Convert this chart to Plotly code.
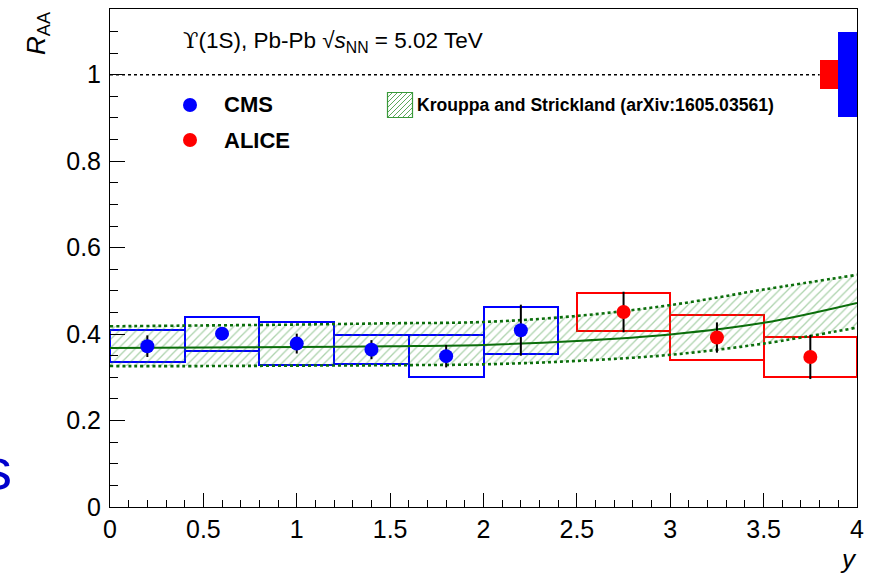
import plotly.graph_objects as go

# ---- CMS: Upsilon(1S) nuclear modification factor vs rapidity ----
cms_edges = [0.0, 0.4, 0.8, 1.2, 1.6, 2.0, 2.4]
cms_raa = [0.372, 0.401, 0.378, 0.364, 0.349, 0.409]
cms_stat = [0.025, 0.012, 0.023, 0.022, 0.026, 0.059]
cms_syst = [0.037, 0.039, 0.050, 0.034, 0.049, 0.054]
cms_global = 0.098

# ---- ALICE: forward rapidity ----
alice_edges = [2.5, 3.0, 3.5, 4.0]
alice_raa = [0.451, 0.392, 0.347]
alice_stat = [0.047, 0.035, 0.051]
alice_syst = [0.045, 0.053, 0.047]
alice_global = 0.034

# ---- Krouppa and Strickland model band ----
model_y = [0.0, 0.5, 1.0, 1.5, 2.0, 2.5, 3.0, 3.5, 4.0]
model_mid = [0.368, 0.369, 0.370, 0.372, 0.375, 0.384, 0.399, 0.426, 0.472]
model_lo = [0.326, 0.326, 0.327, 0.328, 0.330, 0.338, 0.352, 0.378, 0.415]
model_hi = [0.418, 0.420, 0.422, 0.425, 0.428, 0.442, 0.467, 0.503, 0.537]

x_ticks = [0, 0.5, 1, 1.5, 2, 2.5, 3, 3.5, 4]
y_ticks = [0, 0.2, 0.4, 0.6, 0.8, 1]

BLUE = "#0000ff"
RED = "#ff0000"
DKGREEN = "#0b6e0b"
HATCH = "rgba(50,145,50,0.8)"
FONT = "Liberation Sans, Arial, Helvetica, sans-serif"

W, H = 874, 573
ML, MR, MT, MB = 110, 17, 9, 66
PW, PH = W - ML - MR, H - MT - MB


def px(x):
    return (x - ML) / PW


def py(y):
    return (H - MB - y) / PH


def centers(edges):
    return [(a + b) / 2 for a, b in zip(edges[:-1], edges[1:])]


def widths(edges):
    return [b - a for a, b in zip(edges[:-1], edges[1:])]


fig = go.Figure()

# model band: lower edge, upper edge filled with hatching, central curve
fig.add_trace(go.Scatter(
    x=model_y, y=model_lo, mode="lines",
    line=dict(color=DKGREEN, width=2.6, dash="dot", shape="spline"),
    showlegend=False, hoverinfo="skip"))
fig.add_trace(go.Scatter(
    x=model_y, y=model_hi, mode="lines", fill="tonexty",
    fillcolor="rgba(0,0,0,0)",
    fillpattern=dict(shape="/", fgcolor=HATCH,
                     bgcolor="rgba(0,0,0,0)", size=6, solidity=0.22,
                     fillmode="overlay"),
    line=dict(color=DKGREEN, width=2.6, dash="dot", shape="spline"),
    showlegend=False, hoverinfo="skip"))
fig.add_trace(go.Scatter(
    x=model_y, y=model_mid, mode="lines",
    line=dict(color=DKGREEN, width=2, shape="spline"),
    showlegend=False, hoverinfo="skip"))

# systematic uncertainty boxes
for edges, vals, syst, col in [(cms_edges, cms_raa, cms_syst, BLUE),
                               (alice_edges, alice_raa, alice_syst, RED)]:
    fig.add_trace(go.Bar(
        x=centers(edges), width=widths(edges),
        base=[v - s for v, s in zip(vals, syst)],
        y=[2 * s for s in syst],
        marker=dict(color="rgba(0,0,0,0)", line=dict(color=col, width=2)),
        showlegend=False, hoverinfo="skip"))

# global uncertainties around unity
fig.add_trace(go.Bar(
    x=[3.85, 3.95], width=[0.1, 0.1],
    base=[1 - alice_global, 1 - cms_global],
    y=[2 * alice_global, 2 * cms_global],
    marker=dict(color=[RED, BLUE], line=dict(width=0)),
    showlegend=False, hoverinfo="skip"))

# data points with statistical errors
for edges, vals, stat, col in [(cms_edges, cms_raa, cms_stat, BLUE),
                               (alice_edges, alice_raa, alice_stat, RED)]:
    fig.add_trace(go.Scatter(
        x=centers(edges), y=vals, mode="markers",
        marker=dict(color=col, size=14, symbol="circle", line=dict(width=0)),
        error_y=dict(type="data", array=stat, color="black",
                     thickness=2, width=0),
        showlegend=False))

shapes = [
    dict(type="line", xref="x", yref="y", x0=0, x1=3.8, y0=1, y1=1,
         line=dict(color="black", width=1.5, dash="dot")),
    # legend markers
    dict(type="circle", xref="paper", yref="paper",
         x0=px(183), x1=px(197), y0=py(112), y1=py(98),
         fillcolor=BLUE, line=dict(width=0)),
    dict(type="circle", xref="paper", yref="paper",
         x0=px(183), x1=px(197), y0=py(147), y1=py(133),
         fillcolor=RED, line=dict(width=0)),
]

# hatched legend swatch for the model
sx0, sy0, S = 387.5, 92.5, 25
step = 5
k = step
while k < 2 * S:
    a0 = max(0, k - S)
    a1 = min(S, k)
    shapes.append(dict(type="line", xref="paper", yref="paper",
                       x0=px(sx0 + a0), y0=py(sy0 + k - a0),
                       x1=px(sx0 + a1), y1=py(sy0 + k - a1),
                       line=dict(color=HATCH, width=1)))
    k += step
shapes.append(dict(type="rect", xref="paper", yref="paper",
                   x0=px(sx0), x1=px(sx0 + S), y0=py(sy0 + S), y1=py(sy0),
                   line=dict(color="#3a9a3a", width=1.2)))

annotations = [
    dict(text='<span style="font-family:DejaVu Serif">ϒ</span>(1S), Pb-Pb '
              '√<i>s</i><sub>NN</sub> = 5.02 TeV',
         xref="paper", yref="paper", x=px(181), y=py(41),
         xanchor="left", yanchor="middle", showarrow=False,
         font=dict(size=22.5, color="black", family=FONT)),
    dict(text="<b>CMS</b>", xref="paper", yref="paper", x=px(222), y=py(105),
         xanchor="left", yanchor="middle", showarrow=False,
         font=dict(size=22, color="black", family=FONT)),
    dict(text="<b>ALICE</b>", xref="paper", yref="paper", x=px(222), y=py(140),
         xanchor="left", yanchor="middle", showarrow=False,
         font=dict(size=22, color="black", family=FONT)),
    dict(text="<b>Krouppa and Strickland (arXiv:1605.03561)</b>",
         xref="paper", yref="paper", x=px(415), y=py(105),
         xanchor="left", yanchor="middle", showarrow=False,
         font=dict(size=17.6, color="black", family=FONT)),
    dict(text="<i>R</i><sub>AA</sub>", xref="paper", yref="paper",
         x=px(37), y=py(9), xanchor="center", yanchor="top", textangle=-90,
         showarrow=False, font=dict(size=26, color="black", family=FONT)),
    dict(text="<i>y</i>", xref="paper", yref="paper", x=px(848), y=py(559),
         xanchor="center", yanchor="middle", showarrow=False,
         font=dict(size=26, color="black", family=FONT)),
    dict(text="s", xref="paper", yref="paper", x=px(14), y=py(468),
         xanchor="right", yanchor="middle", showarrow=False,
         font=dict(size=58, color="#0000cc", family=FONT)),
]

fig.update_layout(
    width=W, height=H,
    margin=dict(l=ML, r=MR, t=MT, b=MB, pad=0),
    paper_bgcolor="white", plot_bgcolor="white",
    barmode="overlay", bargap=0,
    showlegend=False,
    font=dict(family=FONT, color="black"),
    shapes=shapes, annotations=annotations,
    xaxis=dict(range=[0, 4], tickvals=x_ticks, ticks="inside", ticklen=14,
               tickwidth=1, tickcolor="black",
               minor=dict(dtick=0.1, ticks="inside", ticklen=7,
                          tickcolor="black", tickwidth=1),
               showline=True, linecolor="black", linewidth=1, mirror=True,
               showgrid=False, zeroline=False,
               tickfont=dict(size=25, family=FONT, color="black")),
    yaxis=dict(range=[0, 1.152], tickvals=y_ticks, ticks="inside", ticklen=15,
               tickwidth=1, tickcolor="black",
               minor=dict(dtick=0.05, ticks="inside", ticklen=8,
                          tickcolor="black", tickwidth=1),
               showline=True, linecolor="black", linewidth=1, mirror=True,
               showgrid=False, zeroline=False, ticklabelstandoff=3,
               tickfont=dict(size=25, family=FONT, color="black")),
)

fig.write_html("out.html")
